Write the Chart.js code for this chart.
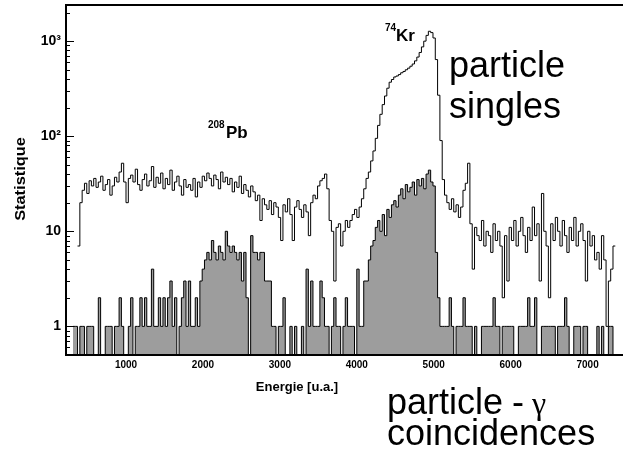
<!DOCTYPE html>
<html>
<head>
<meta charset="utf-8">
<script src="https://cdn.jsdelivr.net/npm/chart.js@4.4.0/dist/chart.umd.min.js"></script>
<style>
  html, body { margin: 0; padding: 0; background: #fff; }
  #wrap { width: 623px; height: 465px; }
</style>
</head>
<body>
<div id="wrap"><canvas id="spectrum" width="623" height="465"></canvas></div>
<script>
// ------------------------------
// Histogram data (counts per bin)
// ------------------------------
const binStart = 310;   // left edge of first bin [u.a.]
const binWidth = 30;

// particle singles
const singles = [
    null, null, 7, 20, 27, 32, 25, 34, 30, 36,
    29, 33, 38, 27, 31, 35, 24, 30, 37, 33,
    42, 52, 33, 20, 36, 39, 33, 45, 31, 27,
    35, 40, 30, 34, 48, 29, 37, 32, 41, 28,
    36, 31, 44, 27, 33, 38, 30, 24, 35, 29,
    31, 27, 36, 23, 33, 29, 38, 34, 41, 36,
    30, 39, 35, 28, 42, 33, 37, 31, 36, 26,
    33, 29, 38, 25, 31, 27, 23, 30, 26, 21,
    24, 13, 22, 19, 17, 21, 15, 20, 18, 14,
    8, 19, 16, 22, 15, 8, 18, 21, 17, 14,
    19, 16, 9, 20, 24, 22, 30, 34, 36, 40,
    28, 13, 10, 3, 11, 12, 7, 10, 13, 11,
    13, 15, 17, 14, 18, 22, 28, 36, 42, 55,
    70, 95, 130, 170, 215, 265, 320, 370, 395, 420,
    430, 445, 465, 480, 500, 520, 545, 575, 620, 680,
    760, 870, 1000, 1150, 1270, 1230, 1080, 640, 270, 90,
    35, 24, 20, 17, 22, 16, 19, 14, 18, 27,
    32, 52, 12, 4, 11, 9, 8, 13, 7, 10,
    9, 6, 12, 8, 10, 7, 2, 9, 3, 11,
    8, 13, 7, 10, 14, 9, 6, 11, 8, 18,
    9, 12, 3, 25, 10, 7, 2, 12, 8, 14,
    10, 7, 13, 9, 6, 11, 8, 14, 7, 10,
    12, 8, 3, 10, 7, 9, 5, 6, 4, 9,
    5, 1, 3, 4, 7
];

// particle - gamma coincidences
const coincidences = [
    1, 1, 0, 1, 1, 0, 1, 1, 1, 0,
    0, 2, 0, 0, 1, 1, 1, 0, 1, 1,
    2, 1, 0, 0, 1, 2, 0, 1, 1, 2,
    1, 2, 1, 1, 4, 1, 1, 2, 1, 2,
    1, 2, 3, 1, 2, 0, 1, 2, 3, 1,
    3, 1, 1, 2, 1, 3, 4, 5, 6, 5,
    8, 6, 5, 7, 6, 5, 10, 7, 6, 7,
    6, 5, 6, 3, 6, 2, 0, 9, 6, 6,
    5, 6, 6, 3, 3, 3, 1, 1, 0, 1,
    1, 2, 0, 0, 1, 0, 1, 0, 0, 1,
    0, 4, 1, 3, 1, 1, 1, 3, 2, 1,
    1, 0, 1, 2, 1, 1, 0, 1, 2, 1,
    1, 1, 0, 4, 1, 1, 3, 3, 5, 7,
    8, 11, 13, 10, 15, 9, 17, 14, 19, 21,
    18, 24, 28, 22, 31, 26, 29, 33, 24, 35,
    30, 36, 28, 40, 44, 33, 30, 6, 2, 1,
    1, 1, 1, 2, 1, 0, 1, 1, 1, 2,
    1, 1, 1, 0, 1, 0, 0, 1, 1, 1,
    1, 1, 2, 1, 1, 0, 1, 1, 1, 1,
    1, 0, 0, 1, 1, 1, 1, 2, 1, 1,
    2, 0, 0, 1, 1, 1, 1, 1, 1, 0,
    1, 1, 1, 2, 1, 0, 0, 1, 1, 1,
    0, 1, 1, 0, 0, 0, 0, 1, 0, 1,
    0, 0, 1, 1, 0
];

// axes
const xRange = [220, 7460];
const yRange = [0.5, 2400];
const xTickValues = [1000, 2000, 3000, 4000, 5000, 6000, 7000];
const yTickValues = [1, 10, 100, 1000];
const yTickLabels = ['1', '10', '10²', '10³'];

const sans = '"Liberation Sans", Arial, sans-serif';

// ------------------------------
// Turn bin contents into step points (empty bins sit on the axis floor)
// ------------------------------
function toSteps(values) {
    const pts = values.map((v, i) => ({
        x: binStart + i * binWidth,
        y: v === null ? null : Math.max(v, yRange[0])
    }));
    // close the last bin
    pts.push({ x: binStart + values.length * binWidth, y: pts[pts.length - 1].y });
    return pts;
}

// keep the plot frame where the reference has it: no label overhang padding
function fixBox(size) {
    return s => {
        if (s.isHorizontal()) s.height = size; else s.width = size;
        s.paddingTop = 0;
        s.paddingBottom = 0;
        s.paddingLeft = 0;
        s.paddingRight = 0;
    };
}

// ------------------------------
// Frame, inward log ticks and the labels written on the plot
// ------------------------------
const decorations = {
    id: 'decorations',
    afterDatasetsDraw(chart) {
        const { ctx, chartArea: a, scales: { y } } = chart;
        ctx.save();
        ctx.strokeStyle = '#000';
        ctx.lineWidth = 1;
        for (let d = -1; d <= 3; d++) {
            for (let k = 1; k <= 9; k++) {
                const v = k * Math.pow(10, d);
                if (v < y.min || v > y.max) continue;
                const py = Math.round(y.getPixelForValue(v)) + 0.5;
                const len = k === 1 ? 8 : 4;
                ctx.beginPath();
                ctx.moveTo(a.left, py);
                ctx.lineTo(a.left + len, py);
                ctx.stroke();
            }
        }
        // frame: left, top, bottom
        ctx.lineWidth = 2;
        ctx.beginPath();
        ctx.moveTo(a.right, a.top);
        ctx.lineTo(a.left, a.top);
        ctx.lineTo(a.left, a.bottom);
        ctx.lineTo(a.right, a.bottom);
        ctx.stroke();
        ctx.restore();
    },
    afterDraw(chart) {
        const ctx = chart.ctx;
        ctx.save();
        ctx.fillStyle = '#000';
        ctx.textBaseline = 'alphabetic';
        ctx.textAlign = 'left';

        // isotopes
        ctx.font = 'bold 10px ' + sans;
        ctx.fillText('208', 208, 128);
        ctx.fillText('74', 385, 31);
        ctx.font = 'bold 17px ' + sans;
        ctx.fillText('Pb', 226, 138);
        ctx.fillText('Kr', 396, 41);

        // big captions
        ctx.font = '36px ' + sans;
        ctx.fillText('particle', 449, 77);
        ctx.fillText('singles', 449, 118);
        ctx.fillText('particle', 387, 414);
        ctx.fillText('-', 512, 414);
        ctx.fillText('coincidences', 387, 445);
        ctx.font = '32px "Liberation Serif", "Times New Roman", serif';
        ctx.fillText('γ', 532, 414);

        // axis titles
        ctx.font = 'bold 13px ' + sans;
        ctx.textAlign = 'center';
        ctx.fillText('Energie [u.a.]', 297, 391);

        ctx.translate(25, 179);
        ctx.rotate(-Math.PI / 2);
        ctx.scale(1.17, 1);
        ctx.font = 'bold 14px ' + sans;
        ctx.fillText('Statistique', 0, 0);
        ctx.restore();
    }
};

// ------------------------------
// Chart
// ------------------------------
const ctx = document.getElementById('spectrum').getContext('2d');

new Chart(ctx, {
    type: 'line',
    data: {
        datasets: [
            {
                label: 'particle singles',
                data: toSteps(singles),
                stepped: true,
                borderColor: '#000',
                borderWidth: 1,
                fill: false,
                pointRadius: 0,
                order: 1
            },
            {
                label: 'particle - γ coincidences',
                data: toSteps(coincidences),
                stepped: true,
                borderColor: '#000',
                borderWidth: 1,
                backgroundColor: '#9d9d9d',
                fill: 'start',
                pointRadius: 0,
                order: 2
            }
        ]
    },
    options: {
        responsive: false,
        animation: false,
        devicePixelRatio: 1,
        layout: { padding: { top: 5, right: 0, bottom: 0, left: 0 } },
        plugins: {
            legend: { display: false },
            tooltip: { enabled: false }
        },
        scales: {
            x: {
                type: 'linear',
                min: xRange[0],
                max: xRange[1],
                afterBuildTicks: s => { s.ticks = xTickValues.map(v => ({ value: v })); },
                afterFit: fixBox(110),
                grid: { display: false, drawTicks: false },
                border: { display: false },
                ticks: {
                    color: '#000',
                    padding: 4,
                    maxRotation: 0,
                    autoSkip: false,
                    callback: v => String(v),
                    font: { family: sans, size: 10, weight: 'bold' }
                }
            },
            y: {
                type: 'logarithmic',
                min: yRange[0],
                max: yRange[1],
                afterBuildTicks: s => { s.ticks = yTickValues.map(v => ({ value: v })); },
                afterFit: fixBox(66),
                grid: { display: false, drawTicks: false },
                border: { display: false },
                ticks: {
                    color: '#000',
                    padding: 5,
                    autoSkip: false,
                    callback: (v, i) => yTickLabels[i],
                    font: { family: sans, size: 14, weight: 'bold' }
                }
            }
        }
    },
    plugins: [decorations]
});
</script>
</body>
</html>
